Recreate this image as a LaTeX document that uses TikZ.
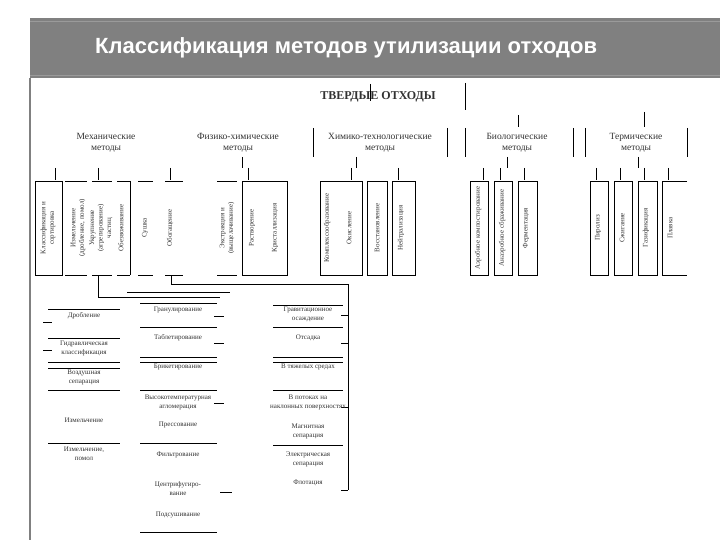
\documentclass[tikz,border=0pt]{standalone}
\usepackage{fontspec}
\setmainfont{Liberation Serif}
\newfontfamily\hdrfont{Liberation Sans}
\definecolor{hdr}{RGB}{128,128,128}
\definecolor{txt}{RGB}{50,50,50}
\tikzset{
  ln/.style={line width=0.8pt},
  lbl/.style={font=\fontsize{9.5}{11.5}\selectfont, align=center, text=txt, inner sep=0pt},
  vt/.style={rotate=90, font=\fontsize{7}{8.5}\selectfont, align=center, text=txt, inner sep=0pt},
  lt/.style={font=\fontsize{7}{9}\selectfont, align=center, text=txt, inner sep=0pt}
}
\begin{document}
\begin{tikzpicture}[x=1pt,y=-1pt]
\useasboundingbox (0,0) rectangle (720,540);
% header
\fill[hdr] (30,18) rectangle (720,78);
\draw[hdr!80, line width=0.6pt] (30,21) -- (720,21);
\draw[hdr!80, line width=0.6pt] (30,75) -- (720,75);
\node[text=white, font=\hdrfont\bfseries\fontsize{22}{26}\selectfont, anchor=west, inner sep=0pt] (title) at (95,48) {Классификация методов утилизации отходов};
\draw[hdr, line width=2pt] (30,78) -- (30,540);

% top node
\node[font=\bfseries\fontsize{12}{14}\selectfont, inner sep=0pt, text=txt] (tv) at (378,97) {ТВЕРДЫЕ ОТХОДЫ};
\draw[ln] (370,84) -- (370,101);
\draw[ln] (465,83) -- (465,110);

% group labels
\node[lbl] (mech) at (106,143) {Механические\\методы};
\node[lbl] (phys) at (238,143) {Физико-химические\\методы};
\node[lbl] (chem) at (380,143) {Химико-технологические\\методы};
\node[lbl] (bio) at (517,143) {Биологические\\методы};
\node[lbl] (therm) at (636,143) {Термические\\методы};
\foreach \x in {313,447,465,573,585,687} \draw[ln] (\x,128) -- (\x,157);
\draw[ln] (518,115) -- (518,127);
\draw[ln] (644,112) -- (644,127);
\foreach \x in {242,356,507,638} \draw[ln] (\x,157) -- (\x,168);
\foreach \x in {55,98,170,248,351,398,483,500,524,596,620,644,668} \draw[ln] (\x,168) -- (\x,180);

% mechanical boxes
\draw[ln] (35,181) rectangle (62,275);
\draw[ln] (130,181) -- (130,275);
\foreach \a/\b in {65/87,92/112,117/130,138/153,165/183,217/237} {
  \draw[ln] (\a,181) -- (\b,181);
  \draw[ln] (\a,275) -- (\b,275);
}
\node[vt] (m1) at (48,228) {Классификация и\\сортировка};
\node[vt] (m2) at (78,228) {Измельчение\\(дробление, помол)};
\node[vt] (m3) at (101,228) {Укрупнение\\(агрегирование)\\частиц};
\node[vt] (m4) at (121,228) {Обезвоживание};
\node[vt] (m5) at (145,228) {Сушка};
\node[vt] (m6) at (170,228) {Обогащение};

% physico-chemical
\node[vt] (p1) at (227,228) {Экстракция и\\(выщелачивание)};
\draw[ln] (242,181) rectangle (287,275);
\node[vt] (p2) at (252,228) {Растворение};
\node[vt] (p3) at (275,228) {Кристаллизация};

% chemical
\draw[ln] (320,181) rectangle (362,275);
\draw[ln] (367,181) rectangle (387,275);
\draw[ln] (392,181) rectangle (415,275);
\node[vt] (c1) at (327,228) {Комплексообразование};
\node[vt] (c2) at (349,228) {Окисление};
\node[vt] (c3) at (377,228) {Восстановление};
\node[vt] (c4) at (401,228) {Нейтрализация};

% biological
\draw[ln] (470,181) rectangle (488,275);
\draw[ln] (494,181) rectangle (512,275);
\draw[ln] (518,181) rectangle (537,275);
\node[vt] (b1) at (478,228) {Аэробное компостирование};
\node[vt] (b2) at (502,228) {Анаэробное сбраживание};
\node[vt] (b3) at (526,228) {Ферментация};

% thermal
\draw[ln] (590,181) rectangle (608,275);
\draw[ln] (614,181) rectangle (632,275);
\draw[ln] (638,181) rectangle (657,275);
\draw[ln] (687,181) -- (662,181) -- (662,275) -- (687,275);
\node[vt] (t1) at (598,228) {Пиролиз};
\node[vt] (t2) at (622,228) {Сжигание};
\node[vt] (t3) at (646,228) {Газификация};
\node[vt] (t4) at (670,228) {Плавка};

% connectors to lists
\coordinate (k1) at (98,297);
\coordinate (k2) at (171,284);
\coordinate (k3) at (348,284);
\draw[ln] (98,275) -- (k1) -- (220,297);
\draw[ln] (127,292) -- (230,292);
\draw[ln] (171,275) -- (k2) -- (k3) -- (348,490);
\foreach \y in {315,343,407,490} \draw[ln] (341,\y) -- (348,\y);

% left list
\foreach \y in {309,338,362,368,390,443} \draw[ln] (48,\y) -- (120,\y);
\draw[ln] (43,322) -- (52,322);
\draw[ln] (43,350) -- (52,350);
\node[lt] (l1) at (84,316) {Дробление};
\node[lt] (l2) at (84,348) {Гидравлическая\\классификация};
\node[lt] (l3) at (84,377) {Воздушная\\сепарация};
\node[lt] (l4) at (84,420) {Измельчение};
\node[lt] (l5) at (84,454) {Измельчение,\\помол};

% middle list
\foreach \y in {303,327,357,362,390,443,532} \draw[ln] (140,\y) -- (217,\y);
\foreach \y in {316,343,403} \draw[ln] (214,\y) -- (224,\y);
\draw[ln] (220,492) -- (232,492);
\node[lt] (s1) at (178,310) {Гранулирование};
\node[lt] (s2) at (178,338) {Таблетирование};
\node[lt] (s3) at (178,367) {Брикетирование};
\node[lt] (s4) at (178,402) {Высокотемпературная\\агломерация};
\node[lt] (s5) at (178,425) {Прессование};
\node[lt] (s6) at (178,455) {Фильтрование};
\node[lt] (s7) at (178,489) {Центрифугиро-\\вание};
\node[lt] (s8) at (178,515) {Подсушивание};

% right list
\foreach \y in {305,327,357,362,390,445} \draw[ln] (273,\y) -- (343,\y);
\node[lt] (r1) at (308,314) {Гравитационное\\осаждение};
\node[lt] (r2) at (308,338) {Отсадка};
\node[lt] (r3) at (308,367) {В тяжелых средах};
\node[lt] (r4) at (308,402) {В потоках на\\наклонных поверхностях};
\node[lt] (r5) at (308,431) {Магнитная\\сепарация};
\node[lt] (r6) at (308,459) {Электрическая\\сепарация};
\node[lt] (r7) at (308,483) {Флотация};
\end{tikzpicture}
\end{document}
